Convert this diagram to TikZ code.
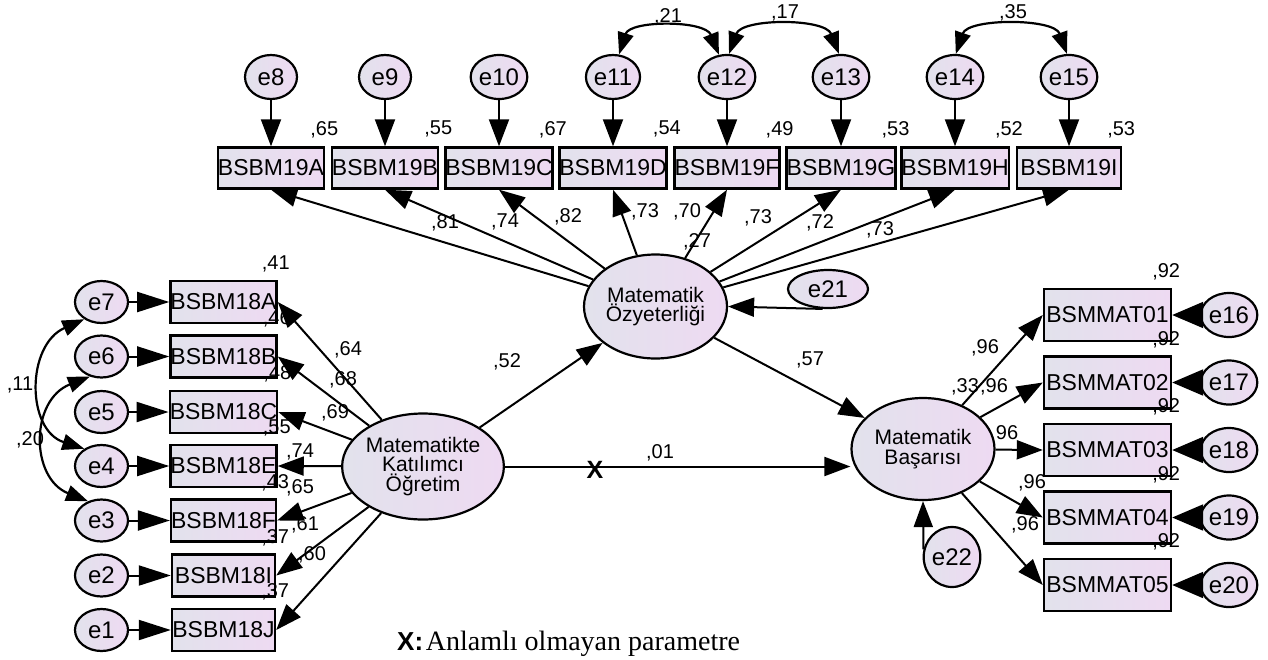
\documentclass[tikz,border=0pt]{standalone}
\usepackage{fontspec}
\setmainfont{Liberation Sans}
\newfontfamily\tnrfont{Liberation Serif}
\usetikzlibrary{arrows.meta,calc,shapes.geometric}
\definecolor{fillL}{HTML}{E2E2EC}
\definecolor{fillR}{HTML}{EEDAF2}
\tikzset{
  obs/.style={rectangle, draw=black, line width=2.4pt, minimum width=104, minimum height=41, inner sep=0pt, left color=fillL, right color=fillR, font=\fontsize{23}{24}\selectfont},
  obsw/.style={obs, minimum width=127, minimum height=52},
  obsl/.style={obs, minimum width=103, minimum height=42},
  err/.style={ellipse, draw=black, line width=2.2pt, minimum width=52, minimum height=44, inner sep=0pt, left color=fillL, right color=fillR, font=\fontsize{24}{24}\selectfont},
  lat/.style={ellipse, draw=black, line width=2.2pt, minimum width=143, minimum height=104, inner sep=0pt, align=center, left color=fillL, right color=fillR, font=\fontsize{21}{19.5}\selectfont},
  lab/.style={inner sep=0pt, font=\fontsize{20}{20}\selectfont},
  pth/.style={line width=2pt, -{Triangle[length=26pt,width=19pt]}},
  errpth/.style={line width=2pt, -{Triangle[length=27pt,width=20pt]}},
  errpthl/.style={line width=2pt, -{Triangle[length=32pt,width=20pt]}},
  errpthw/.style={line width=2pt, -{Triangle[length=31pt,width=26pt]}},
  cov/.style={line width=2.2pt, {Triangle[length=22pt,width=16pt]}-{Triangle[length=22pt,width=16pt]}}
}
\begin{document}
\begin{tikzpicture}[x=1pt,y=-1pt]
\useasboundingbox[fill=white] (0,0) rectangle (1268,659);

% ---------- top indicators ----------
\node[obs] (b19a) at (271,168) {BSBM19A};
\node[obs] (b19b) at (385,168) {BSBM19B};
\node[obs] (b19c) at (499,168) {BSBM19C};
\node[obs] (b19d) at (613,168) {BSBM19D};
\node[obs] (b19f) at (727,168) {BSBM19F};
\node[obs] (b19g) at (841,168) {BSBM19G};
\node[obs] (b19h) at (955,168) {BSBM19H};
\node[obs] (b19i) at (1069,168) {BSBM19I};

\node[err] (e8) at (271,77) {e8};
\node[err] (e9) at (385,77) {e9};
\node[err] (e10) at (499,77) {e10};
\node[err] (e11) at (613,77) {e11};
\node[err] (e12) at (727,77) {e12};
\node[err] (e13) at (841,77) {e13};
\node[err] (e14) at (955,77) {e14};
\node[err] (e15) at (1069,77) {e15};

% ---------- left indicators ----------
\node[obsl] (b18a) at (223.5,302) {BSBM18A};
\node[obsl] (b18b) at (223.5,356.5) {BSBM18B};
\node[obsl] (b18c) at (223.5,412) {BSBM18C};
\node[obsl] (b18e) at (223.5,466) {BSBM18E};
\node[obsl] (b18f) at (223.5,520.5) {BSBM18F};
\node[obsl] (b18i) at (223.5,575.5) {BSBM18I};
\node[obsl] (b18j) at (223.5,630) {BSBM18J};

\node[err, minimum width=53, minimum height=42] (e7) at (101.5,302) {e7};
\node[err, minimum width=53, minimum height=42] (e6) at (101.5,356.5) {e6};
\node[err, minimum width=53, minimum height=42] (e5) at (101.5,412) {e5};
\node[err, minimum width=53, minimum height=42] (e4) at (101.5,466) {e4};
\node[err, minimum width=53, minimum height=42] (e3) at (101.5,520.5) {e3};
\node[err, minimum width=53, minimum height=42] (e2) at (101.5,575.5) {e2};
\node[err, minimum width=53, minimum height=42] (e1) at (101.5,630) {e1};

% ---------- right indicators ----------
\node[obsw] (m01) at (1107.5,315) {BSMMAT01};
\node[obsw] (m02) at (1107.5,382.5) {BSMMAT02};
\node[obsw] (m03) at (1107.5,450) {BSMMAT03};
\node[obsw] (m04) at (1107.5,517.5) {BSMMAT04};
\node[obsw] (m05) at (1107.5,585) {BSMMAT05};

\node[err] (e16) at (1229,315) {e16};
\node[err] (e17) at (1229,382.5) {e17};
\node[err] (e18) at (1229,450) {e18};
\node[err] (e19) at (1229,517.5) {e19};
\node[err] (e20) at (1229,585) {e20};

% ---------- latents ----------
\node[lat] (oz) at (655.5,306.5) {Matematik\\Özyeterliği};
\node[lat, minimum height=106] (mk) at (423,466.5) {Matematikte\\Katılımcı\\Öğretim};
\node[lat, minimum height=102] (mb) at (923,449) {Matematik\\Başarısı};
\node[err, minimum width=80, minimum height=38] (e21) at (828,289) {e21};
\node[err, minimum width=45, minimum height=60] (e22) at (952,557) {e22};

% ---------- labels ----------
\node[lab] (r19a) at ($(b19a.north east)+(-1,-17)$) {,65};
\node[lab] (r19b) at ($(b19b.north east)+(-1,-17)$) {,55};
\node[lab] (r19c) at ($(b19c.north east)+(-1,-17)$) {,67};
\node[lab] (r19d) at ($(b19d.north east)+(-1,-17)$) {,54};
\node[lab] (r19f) at ($(b19f.north east)+(-1,-17)$) {,49};
\node[lab] (r19g) at ($(b19g.north east)+(-1,-17)$) {,53};
\node[lab] (r19h) at ($(b19h.north east)+(-1,-17)$) {,52};
\node[lab] (r19i) at ($(b19i.north east)+(-1,-17)$) {,53};

\node[lab] (r18a) at ($(b18a.north east)+(-2,-16)$) {,41};
\node[lab] (r18b) at ($(b18b.north east)+(-1,-16)$) {,46};
\node[lab] (r18c) at ($(b18c.north east)+(-1,-16)$) {,48};
\node[lab] (r18e) at ($(b18e.north east)+(-1,-16)$) {,55};
\node[lab] (r18f) at ($(b18f.north east)+(-2,-16)$) {,43};
\node[lab] (r18i) at ($(b18i.north east)+(-1,-16)$) {,37};
\node[lab] (r18j) at ($(b18j.north east)+(-1,-16)$) {,37};

\node[lab] (rm01) at ($(m01.north east)+(-6,-16)$) {,92};
\node[lab] (rm02) at ($(m02.north east)+(-6,-16)$) {,92};
\node[lab] (rm03) at ($(m03.north east)+(-6,-16)$) {,92};
\node[lab] (rm04) at ($(m04.north east)+(-6,-16)$) {,92};
\node[lab] (rm05) at ($(m05.north east)+(-6,-16)$) {,92};

\node[lab] (l19a) at (445,223) {,81};
\node[lab] (l19b) at (505,222) {,74};
\node[lab] (l19c) at (568,217) {,82};
\node[lab] (l19d) at (645,212) {,73};
\node[lab] (l19f) at (687,212) {,70};
\node[lab] (l19g) at (758,218) {,73};
\node[lab] (l19h) at (820,223) {,72};
\node[lab] (l19i) at (880,230) {,73};
\node[lab] (roz) at (697,242) {,27};

\node[lab] (l18a) at (348,350) {,64};
\node[lab] (l18b) at (343,380) {,68};
\node[lab] (l18c) at (335,413) {,69};
\node[lab] (l18e) at (300,452) {,74};
\node[lab] (l18f) at (300,488) {,65};
\node[lab] (l18i) at (305,525) {,61};
\node[lab] (l18j) at (312,555) {,60};

\node[lab] (lm01) at (985,348) {,96};
\node[lab] (rmb) at (965,387) {,33};
\node[lab] (lm02) at (994,387) {,96};
\node[lab] (lm03) at (1007,433) {96};
\node[lab] (lm04) at (1032,483) {,96};
\node[lab] (lm05) at (1025,525) {,96};

\node[lab] (lmkoz) at (507,362) {,52};
\node[lab] (lozmb) at (810,360) {,57};
\node[lab] (lmkmb) at (660,453) {,01};
\node[inner sep=0pt, font=\fontsize{25}{25}\selectfont\bfseries] (xmark) at (595,470) {X};

\node[lab] (c1) at (668,17) {,21};
\node[lab] (c2) at (785,13) {,17};
\node[lab] (c3) at (1013,13) {,35};
\node[lab] (c4) at (20,385) {,11};
\node[lab] (c5) at (30,440) {,20};

% ---------- arrows: errors to indicators ----------
\foreach \e/\b in {e8/b19a,e9/b19b,e10/b19c,e11/b19d,e12/b19f,e13/b19g,e14/b19h,e15/b19i}
  \draw[errpth] (\e) -- (\b);
\foreach \e/\b in {e7/b18a,e6/b18b,e5/b18c,e4/b18e,e3/b18f,e2/b18i,e1/b18j}
  \draw[errpthl] (\e) -- (\b);
\foreach \e/\b in {e16/m01,e17/m02,e18/m03,e19/m04,e20/m05}
  \draw[errpthw] (\e) -- (\b);

% ---------- loadings ----------
\foreach \b in {b19a,b19b,b19c,b19d,b19f,b19g,b19h,b19i}
  \draw[pth] (oz) -- (\b.south);
\foreach \b in {b18a,b18b,b18c,b18e,b18f,b18i,b18j}
  \draw[pth] (mk) -- (\b.east);
\foreach \b in {m01,m02,m03,m04,m05}
  \draw[pth] (mb) -- (\b.west);

% ---------- structural paths ----------
\draw[pth] (mk) -- (oz);
\draw[pth] (oz) -- (mb);
\draw[pth] (mk.east) -- (mb.west |- mk.east);
\draw[pth] (e21.255) -- (oz.east);
\draw[pth] (e22.165) -- (mb.south);

% ---------- covariances ----------
\draw[cov] (e11.75) .. controls (630,20) and (705,20) .. (e12.110);
\draw[cov] (e12.85) .. controls (742,18) and (825,18) .. (e13.95);
\draw[cov] (e14.88) .. controls (968,18) and (1054,18) .. (e15.95);
\draw[cov] (e7.225) .. controls (26,345) and (26,430) .. (e4.135);
\draw[cov] (e6.240) .. controls (30,400) and (30,478) .. (e3.125);

% ---------- legend ----------
\node[anchor=base west, inner sep=0pt] (legend) at (397,650)
  {{\fontsize{26}{26}\selectfont\bfseries X:} {\tnrfont\fontsize{28}{28}\selectfont Anlamlı olmayan parametre}};
\end{tikzpicture}
\end{document}
